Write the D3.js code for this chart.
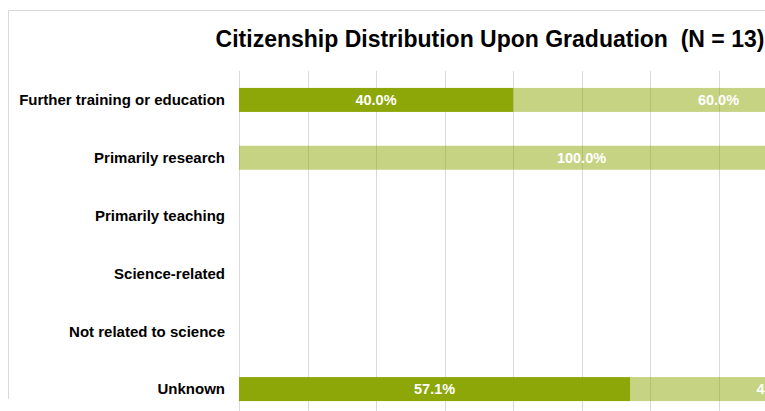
<!DOCTYPE html>
<html>
<head>
<meta charset="utf-8">
<script src="https://cdn.jsdelivr.net/npm/d3@7"></script>
<style>
  body { margin: 0; background: #fff; }
  svg { display: block; font-family: 'Liberation Sans', Arial, sans-serif; }
</style>
</head>
<body>
<svg id="chart" width="765" height="411"></svg>
<script>
// data
const categories = [
  'Further training or education',
  'Primarily research',
  'Primarily teaching',
  'Science-related',
  'Not related to science',
  'Unknown',
];
const seriesNames = ['U.S. Citizen', 'Non-U.S. Citizen'];
const citizenValues = [40.0, 0, 0, 0, 0, 57.1];
const nonCitizenValues = [60.0, 100.0, 0, 0, 0, 42.9];
const xTicks = [0, 10, 20, 30, 40, 50, 60, 70, 80, 90, 100];

function renderChart() {
  const svg = d3.select('#chart');

  // 1- dimensions
  const plotLeft = 239;
  const plotRight = 924;
  const plotTop = 71;
  const plotBottom = 418;
  const darkGreen = '#8da708';
  const gridColor = '#d9d9d9';

  // 2- scales
  const x = d3.scaleLinear().domain([0, 100]).range([plotLeft, plotRight]);
  const y = d3
    .scaleBand()
    .domain(categories)
    .range([plotTop, plotBottom])
    .paddingInner(0.585)
    .paddingOuter(0.2925);

  // 3- chart border (top + left, rest is off-screen)
  svg.append('line')
    .attr('x1', 8.5).attr('y1', 10.5).attr('x2', 765).attr('y2', 10.5)
    .attr('stroke', gridColor);
  svg.append('line')
    .attr('x1', 8.5).attr('y1', 10.5).attr('x2', 8.5).attr('y2', 399)
    .attr('stroke', gridColor);

  // 4- title
  svg.append('text')
    .attr('x', 490)
    .attr('y', 47)
    .attr('text-anchor', 'middle')
    .attr('font-size', 23)
    .attr('font-weight', 'bold')
    .attr('fill', '#000')
    .style('white-space', 'pre')
    .text('Citizenship Distribution Upon Graduation  (N = 13)');

  // 5- vertical gridlines
  svg.append('g')
    .selectAll('line')
    .data(xTicks)
    .join('line')
    .attr('x1', (d) => Math.round(x(d)) + 0.5)
    .attr('x2', (d) => Math.round(x(d)) + 0.5)
    .attr('y1', plotTop)
    .attr('y2', plotBottom)
    .attr('stroke', gridColor)
    .attr('stroke-width', 1);

  // 6- stacked bars
  const rows = categories.map((c, i) => ({
    category: c,
    [seriesNames[0]]: citizenValues[i],
    [seriesNames[1]]: nonCitizenValues[i],
  }));
  const stacked = d3.stack().keys(seriesNames)(rows);
  const opacities = [1, 0.5];

  const layers = svg.append('g')
    .selectAll('g')
    .data(stacked)
    .join('g')
    .attr('fill', darkGreen)
    .attr('fill-opacity', (d, i) => opacities[i]);

  layers.selectAll('rect')
    .data((d) => d)
    .join('rect')
    .attr('x', (d) => x(d[0]))
    .attr('y', (d) => y(d.data.category))
    .attr('width', (d) => x(d[1]) - x(d[0]))
    .attr('height', y.bandwidth());

  // 7- data labels
  layers.selectAll('text')
    .data((d) => d.filter((s) => s[1] - s[0] > 0))
    .join('text')
    .attr('x', (d) => (x(d[0]) + x(d[1])) / 2)
    .attr('y', (d) => y(d.data.category) + y.bandwidth() / 2)
    .attr('dy', '0.36em')
    .attr('text-anchor', 'middle')
    .attr('fill', '#fff')
    .attr('fill-opacity', 1)
    .attr('font-size', 14.5)
    .attr('font-weight', 'bold')
    .text((d) => d3.format('.1f')(d[1] - d[0]) + '%');

  // 8- category labels
  svg.append('g')
    .selectAll('text')
    .data(categories)
    .join('text')
    .attr('x', 225)
    .attr('y', (d) => y(d) + y.bandwidth() / 2)
    .attr('dy', '0.36em')
    .attr('text-anchor', 'end')
    .attr('font-size', 15)
    .attr('font-weight', 'bold')
    .attr('fill', '#000')
    .text((d) => d);
}

document.addEventListener('DOMContentLoaded', renderChart);
</script>
</body>
</html>
